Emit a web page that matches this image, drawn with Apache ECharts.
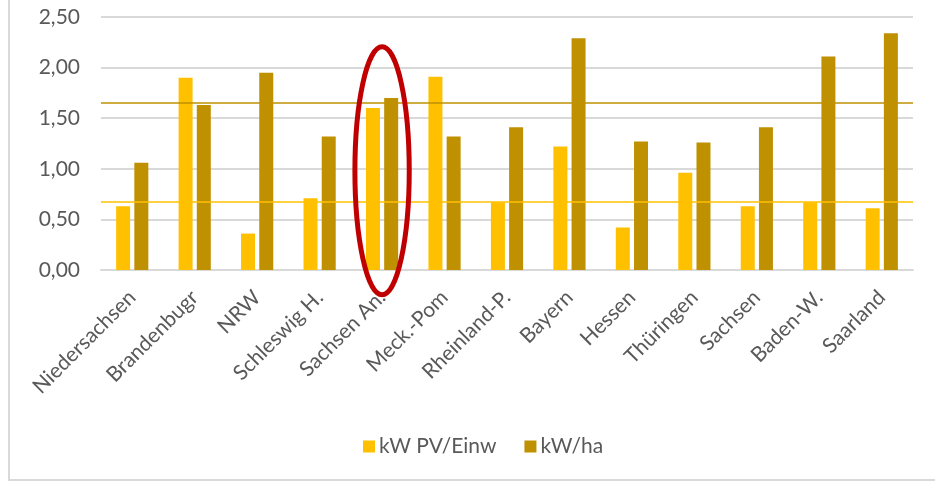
<!DOCTYPE html>
<html>
<head>
<meta charset="utf-8">
<script src="https://cdn.jsdelivr.net/npm/echarts@6/dist/echarts.min.js"></script>
<style>
html,body{margin:0;padding:0;background:#fff;}
#chart{width:935px;height:482px;}
</style>
</head>
<body>
<div id="chart"></div>
<script>
const categories = ['Niedersachsen','Brandenbugr','NRW','Schleswig H.','Sachsen An.','Meck.-Pom','Rheinland-P.','Bayern','Hessen','Thüringen','Sachsen','Baden-W.','Saarland'];
const kwPvEinw = [0.63,1.90,0.36,0.71,1.60,1.91,0.67,1.22,0.42,0.96,0.63,0.67,0.61];
const kwHa = [1.06,1.63,1.95,1.32,1.70,1.32,1.41,2.29,1.27,1.26,1.41,2.11,2.34];
const refPvEinw = 0.665;
const refHa = 1.645;
const yTicks = {min:0, max:2.5, interval:0.5};
const highlightCategory = 'Sachsen An.';
const highlightRange = [2.205, -0.245];

const textColor = '#595959';
const font = 'Lato, "Open Sans", sans-serif';

const chart = echarts.init(document.getElementById('chart'));
const option = {
  animation:false,
  backgroundColor:'#fff',
  textStyle:{fontFamily:font},
  grid:{left:101, right:22, top:17, bottom:212, containLabel:false},
  legend:{
    data:['kW PV/Einw','kW/ha'],
    top:431, left:358,
    itemWidth:12, itemHeight:12, itemGap:28,
    icon:'rect',
    textStyle:{color:textColor, fontSize:21, fontFamily:font, padding:[0,0,0,-1]}
  },
  xAxis:{
    type:'category',
    data:categories,
    axisLine:{lineStyle:{color:'#d9d9d9', width:2}},
    axisTick:{show:false},
    axisLabel:{rotate:45, color:textColor, fontSize:21, fontFamily:font, margin:24, interval:0}
  },
  yAxis:{
    type:'value',
    min:yTicks.min, max:yTicks.max, interval:yTicks.interval,
    axisLine:{show:false},
    axisTick:{show:false},
    splitLine:{lineStyle:{color:'#d9d9d9', width:2}},
    axisLabel:{color:textColor, fontSize:21, fontFamily:font, margin:21,
      formatter:v=>v.toFixed(2).replace('.',',')}
  },
  series:[
    {
      name:'kW PV/Einw', type:'bar', data:kwPvEinw, barWidth:14, barGap:'30%',
      itemStyle:{color:'#FFC000'},
      markLine:{silent:true, symbol:'none', label:{show:false},
        lineStyle:{color:'#FFC000', width:1.5, type:'solid'},
        data:[{yAxis:refPvEinw}]}
    },
    {
      name:'kW/ha', type:'bar', data:kwHa, barWidth:14,
      itemStyle:{color:'#BF9000'},
      markLine:{silent:true, symbol:'none', label:{show:false},
        lineStyle:{color:'#BF9000', width:1.5, type:'solid'},
        data:[{yAxis:refHa}]}
    }
  ],
  graphic:[
    {type:'rect', shape:{x:9, y:-10, width:960, height:490},
     style:{fill:'none', stroke:'#d9d9d9', lineWidth:2}, silent:true, z:-1}
  ]
};
chart.setOption(option);

// annotation ellipse around the highlighted category
const cx = chart.convertToPixel({xAxisIndex:0}, highlightCategory);
const yTop = chart.convertToPixel({yAxisIndex:0}, highlightRange[0]);
const yBot = chart.convertToPixel({yAxisIndex:0}, highlightRange[1]);
const cx2 = chart.convertToPixel({xAxisIndex:0}, categories[5]);
const catW = cx2 - cx;
chart.setOption({
  graphic:[
    {type:'rect', shape:{x:9, y:-10, width:960, height:490},
     style:{fill:'none', stroke:'#d9d9d9', lineWidth:2}, silent:true, z:-1},
    {type:'ellipse', shape:{cx:cx, cy:(yTop+yBot)/2, rx:catW*0.435, ry:(yBot-yTop)/2},
     style:{fill:'none', stroke:'#C00000', lineWidth:5}, silent:true, z:100}
  ]
});
</script>
</body>
</html>
